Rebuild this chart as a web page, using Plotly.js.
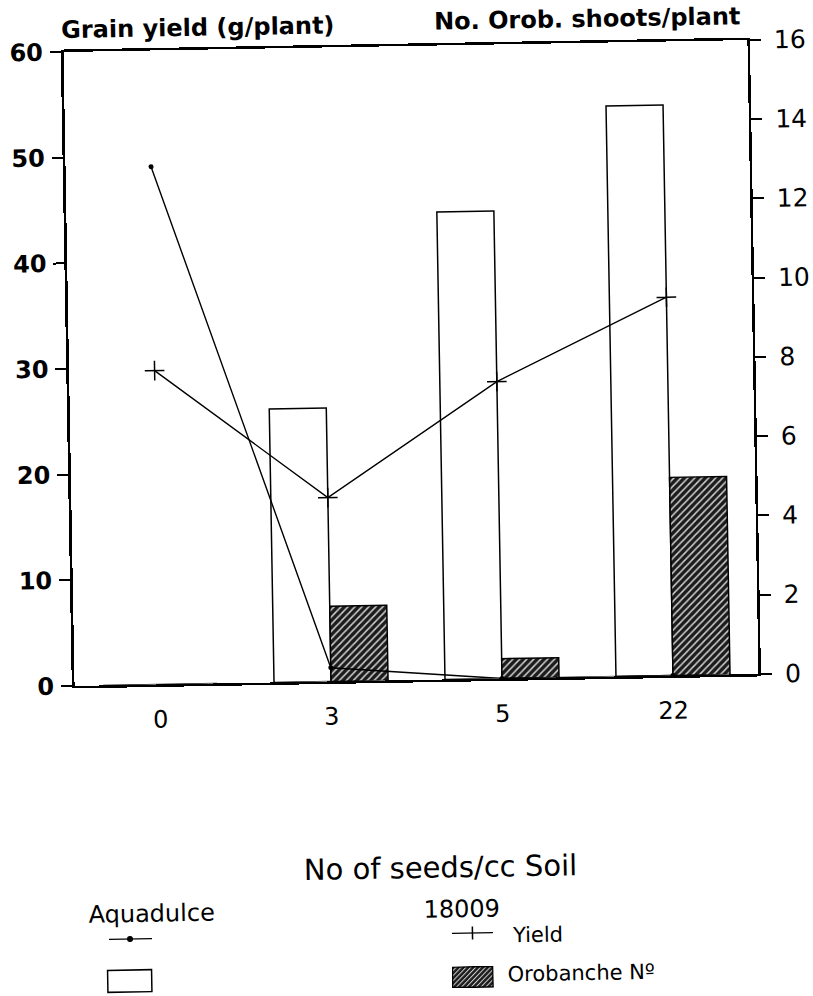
<!DOCTYPE html>
<html>
<head>
<meta charset="utf-8">
<script src="https://cdn.plot.ly/plotly-3.0.1.min.js"></script>
<style>
  html, body { margin: 0; padding: 0; background: #ffffff; overflow: hidden; }
  #chart { width: 813px; height: 996px; transform: rotate(-1deg); transform-origin: 411px 363px; }
</style>
</head>
<body>
<div id="chart"></div>
<script>
// Seed density of Orobanche in the soil (x categories)
const doses = ['0', '3', '5', '22'];

// Grain yield, g/plant (left axis)
const yieldAquadulce = [49, 1.3, 0, 0];
const yield18009 = [29.7, 17.4, 28.1, 35.8];

// Orobanche shoots per plant (right axis)
const orobAquadulce = [0, 6.9, 11.8, 14.4];
const orob18009 = [0, 1.9, 0.5, 5.0];

// Tick values
const leftTicks = [0, 10, 20, 30, 40, 50, 60];
const rightTicks = [0, 2, 4, 6, 8, 10, 12, 14, 16];

// Plot box in pixels, used to place the free-standing labels and key
const LEFT = 69, TOP = 46, W = 684, H = 634;
const px = v => (v - LEFT) / W;
const py = v => (TOP + H - v) / H;

const FONT = 'DejaVu Sans, Arial, sans-serif';

const traces = [
  {
    type: 'bar', x: doses, y: orobAquadulce, yaxis: 'y',
    name: 'Aquadulce Orobanche', showlegend: false,
    marker: { color: '#ffffff', line: { color: '#000000', width: 1.5 } }
  },
  {
    type: 'bar', x: doses, y: orob18009, yaxis: 'y',
    name: '18009 Orobanche', showlegend: false,
    marker: {
      color: '#1c1c1c',
      line: { color: '#000000', width: 1.5 },
      pattern: { shape: '/', size: 5, solidity: 0.3, fgcolor: '#cfcfcf', bgcolor: '#1c1c1c' }
    }
  },
  {
    type: 'scatter', mode: 'lines+markers', x: doses, y: yieldAquadulce, yaxis: 'y2',
    name: 'Aquadulce yield', showlegend: false,
    line: { color: '#000000', width: 1.4 },
    marker: { symbol: 'circle', size: 5, color: '#000000' },
    cliponaxis: false
  },
  {
    type: 'scatter', mode: 'lines+markers', x: doses, y: yield18009, yaxis: 'y2',
    name: '18009 yield', showlegend: false,
    line: { color: '#000000', width: 1.4 },
    marker: { symbol: 'cross-thin', size: 14, color: '#000000', line: { color: '#000000', width: 1.5 } },
    cliponaxis: false
  }
];

// Hatched swatch for the key
const hatchSvg =
  "<svg xmlns='http://www.w3.org/2000/svg' width='42' height='22'>" +
  "<defs><pattern id='h' width='3.5' height='3.5' patternUnits='userSpaceOnUse' patternTransform='rotate(45)'>" +
  "<rect width='3.5' height='3.5' fill='#1c1c1c'/><rect width='1' height='3.5' fill='#cfcfcf'/></pattern></defs>" +
  "<rect x='0.75' y='0.75' width='40.5' height='20.5' fill='url(#h)' stroke='#000' stroke-width='1.5'/></svg>";

const blk = '#000000';
const layout = {
  width: 813, height: 996,
  margin: { l: LEFT, r: 813 - LEFT - W, t: TOP, b: 996 - TOP - H, pad: 0 },
  paper_bgcolor: '#ffffff', plot_bgcolor: '#ffffff',
  showlegend: false,
  barmode: 'group', bargap: 0.333, bargroupgap: 0,
  font: { family: FONT, color: blk },
  xaxis: {
    type: 'category', range: [-0.5, 3.5],
    showline: true, linecolor: blk, linewidth: 2.5, mirror: true,
    ticks: '', showgrid: false, zeroline: false,
    tickfont: { family: FONT, size: 24, color: blk },
    ticklabelstandoff: 12
  },
  yaxis: {
    side: 'right', range: [0, 16], tickvals: rightTicks,
    showline: true, linecolor: blk, linewidth: 2.5,
    ticks: 'outside', ticklen: 11, tickwidth: 2, tickcolor: blk,
    showgrid: false, zeroline: false,
    tickfont: { family: FONT, size: 25, color: blk },
    ticklabelstandoff: 8
  },
  yaxis2: {
    overlaying: 'y', side: 'left', range: [0, 60], tickvals: leftTicks,
    showline: true, linecolor: blk, linewidth: 2.8,
    ticks: 'outside', ticklen: 11, tickwidth: 2, tickcolor: blk,
    showgrid: false, zeroline: false,
    tickfont: { family: FONT, size: 24, color: blk, weight: 'bold' },
    ticklabelstandoff: 2
  },
  annotations: [
    { text: 'Grain yield (g/plant)', xref: 'paper', yref: 'paper', x: px(65), y: py(24),
      xanchor: 'left', yanchor: 'middle', showarrow: false,
      font: { family: FONT, size: 24, color: blk, weight: 'bold' } },
    { text: 'No. Orob. shoots/plant', xref: 'paper', yref: 'paper', x: px(748), y: py(22),
      xanchor: 'right', yanchor: 'middle', showarrow: false,
      font: { family: FONT, size: 24, color: blk, weight: 'bold' } },
    { text: 'No of seeds/cc Soil', xref: 'paper', yref: 'paper', x: px(431), y: py(868),
      xanchor: 'center', yanchor: 'middle', showarrow: false,
      font: { family: FONT, size: 29, color: blk } },
    { text: 'Aquadulce', xref: 'paper', yref: 'paper', x: px(77), y: py(909),
      xanchor: 'left', yanchor: 'middle', showarrow: false,
      font: { family: FONT, size: 24, color: blk } },
    { text: '18009', xref: 'paper', yref: 'paper', x: px(412), y: py(910),
      xanchor: 'left', yanchor: 'middle', showarrow: false,
      font: { family: FONT, size: 24, color: blk } },
    { text: 'Yield', xref: 'paper', yref: 'paper', x: px(500), y: py(937),
      xanchor: 'left', yanchor: 'middle', showarrow: false,
      font: { family: FONT, size: 21, color: blk } },
    { text: 'Orobanche Nº', xref: 'paper', yref: 'paper', x: px(495), y: py(976),
      xanchor: 'left', yanchor: 'middle', showarrow: false,
      font: { family: FONT, size: 21, color: blk } }
  ],
  shapes: [
    // Aquadulce yield key
    { type: 'line', xref: 'paper', yref: 'paper', x0: px(99), x1: px(142), y0: py(934), y1: py(934),
      line: { color: blk, width: 1.4 } },
    { type: 'circle', xref: 'paper', yref: 'paper', x0: px(117.5), x1: px(122.5), y0: py(936.5), y1: py(931.5),
      fillcolor: blk, line: { color: blk, width: 1 } },
    // Aquadulce Orobanche key
    { type: 'rect', xref: 'paper', yref: 'paper', x0: px(97), x1: px(141), y0: py(987), y1: py(965),
      fillcolor: '#ffffff', line: { color: blk, width: 1.5 } },
    // 18009 yield key
    { type: 'line', xref: 'paper', yref: 'paper', x0: px(442), x1: px(483), y0: py(934), y1: py(934),
      line: { color: blk, width: 1.4 } },
    { type: 'line', xref: 'paper', yref: 'paper', x0: px(462.5), x1: px(462.5), y0: py(927.5), y1: py(940.5),
      line: { color: blk, width: 1.5 } }
  ],
  images: [
    { source: 'data:image/svg+xml;charset=utf-8,' + encodeURIComponent(hatchSvg),
      xref: 'paper', yref: 'paper', x: px(441), y: py(967),
      sizex: 42 / W, sizey: 22 / H, xanchor: 'left', yanchor: 'top',
      sizing: 'stretch', layer: 'above' }
  ]
};

Plotly.newPlot('chart', traces, layout, { staticPlot: true, displayModeBar: false });
</script>
</body>
</html>
